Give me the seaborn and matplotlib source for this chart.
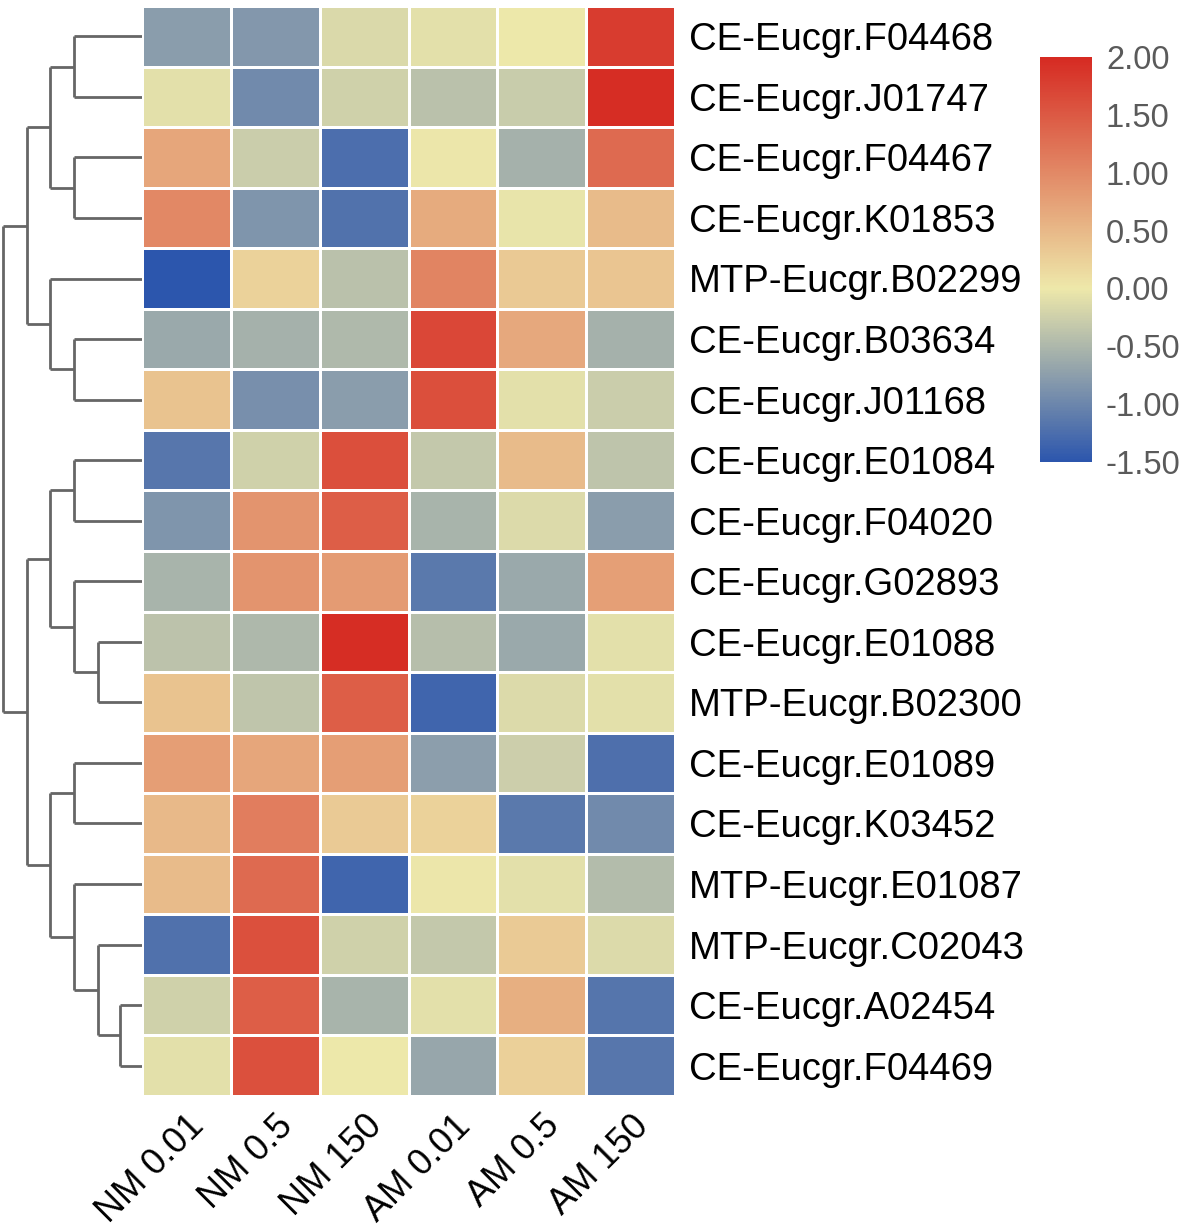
import numpy as np
import pandas as pd
import matplotlib
matplotlib.use("Agg")
import matplotlib.pyplot as plt
import seaborn as sns
from matplotlib.colors import LinearSegmentedColormap

# --- data (row-scaled expression) ---
genes = ["CE-Eucgr.F04468", "CE-Eucgr.J01747", "CE-Eucgr.F04467", "CE-Eucgr.K01853",
         "MTP-Eucgr.B02299", "CE-Eucgr.B03634", "CE-Eucgr.J01168", "CE-Eucgr.E01084",
         "CE-Eucgr.F04020", "CE-Eucgr.G02893", "CE-Eucgr.E01088", "MTP-Eucgr.B02300",
         "CE-Eucgr.E01089", "CE-Eucgr.K03452", "MTP-Eucgr.E01087", "MTP-Eucgr.C02043",
         "CE-Eucgr.A02454", "CE-Eucgr.F04469"]
conditions = ["NM 0.01", "NM 0.5", "NM 150", "AM 0.01", "AM 0.5", "AM 150"]

nm_001 = [-0.77, -0.09, 0.69, 1.01, -1.51, -0.64, 0.40, -1.16, -0.85,
          -0.54, -0.39, 0.40, 0.78, 0.49, 0.48, -1.22, -0.24, -0.09]
nm_05 = [-0.82, -0.96, -0.28, -0.85, 0.23, -0.56, -0.91, -0.23, 0.88,
         0.88, -0.50, -0.36, 0.69, 1.12, 1.32, 1.59, 1.44, 1.59]
nm_150 = [-0.15, -0.23, -1.25, -1.21, -0.40, -0.48, -0.77, 1.61, 1.44,
          0.80, 1.97, 1.44, 0.78, 0.31, -1.34, -0.23, -0.53, 0.00]
am_001 = [-0.09, -0.40, -0.01, 0.64, 1.05, 1.69, 1.61, -0.33, -0.54,
          -1.14, -0.42, -1.34, -0.76, 0.23, -0.01, -0.33, -0.09, -0.67]
am_05 = [0.00, -0.29, -0.56, -0.05, 0.32, 0.67, -0.09, 0.48, -0.14,
         -0.65, -0.65, -0.14, -0.26, -1.14, -0.09, 0.31, 0.60, 0.25]
am_150 = [1.80, 1.97, 1.32, 0.47, 0.37, -0.56, -0.28, -0.37, -0.77,
          0.76, -0.09, -0.09, -1.24, -0.96, -0.45, -0.14, -1.18, -1.16]

# row dendrogram: (left, right, height); leaves 0-17 in display order, new nodes from 18
merges = [(0, 1, 68), (2, 3, 68), (18, 19, 91), (5, 6, 68), (4, 21, 91), (20, 22, 114),
          (7, 8, 68), (10, 11, 44), (9, 25, 68), (24, 26, 91),
          (12, 13, 68), (16, 17, 22), (15, 29, 44), (14, 30, 68), (28, 31, 91),
          (27, 32, 114), (23, 33, 138)]

df = pd.DataFrame({"NM 0.01": nm_001, "NM 0.5": nm_05, "NM 150": nm_150,
                   "AM 0.01": am_001, "AM 0.5": am_05, "AM 150": am_150}, index=genes)

vmin, vmax = -1.5, 2.0
mid = (0 - vmin) / (vmax - vmin)
cmap = LinearSegmentedColormap.from_list(
    "byr", [(0, "#2C56AD"), (mid, "#EEE8AA"), (1, "#D62A22")])

W, H = 1180, 1228
fig = plt.figure(figsize=(W / 100, H / 100), dpi=100)
plt.rcParams["font.family"] = ["Liberation Sans", "DejaVu Sans"]

hm_l, hm_r, hm_t, hm_b = 142, 675, 6, 1096
ax = fig.add_axes([hm_l / W, 1 - hm_b / H, (hm_r - hm_l) / W, (hm_b - hm_t) / H])
dax = fig.add_axes([0, 1 - hm_b / H, hm_l / W, (hm_b - hm_t) / H])
cax = fig.add_axes([1040 / W, 1 - 462 / H, 52 / W, (462 - 57) / H])

sns.heatmap(df, ax=ax, cmap=cmap, vmin=vmin, vmax=vmax, linewidths=2, linecolor="white",
            cbar_ax=cax, cbar_kws={"ticks": [-1.5, -1.0, -0.5, 0, 0.5, 1.0, 1.5, 2.0],
                                   "format": "%.2f"})

ax.yaxis.tick_right()
ax.set_yticklabels(genes, rotation=0, fontsize=27.5, color="black")
ax.set_xticklabels(conditions, rotation=45, ha="right", va="top",
                   rotation_mode="anchor", fontsize=26, color="black")
ax.tick_params(axis="both", length=0)
ax.tick_params(axis="y", pad=10)
ax.tick_params(axis="x", pad=9)
ax.set_xlabel("")
ax.set_ylabel("")

cbar = ax.collections[0].colorbar
cbar.outline.set_visible(False)
cax.tick_params(length=0, labelsize=23.5, labelcolor="#5a5a5a", pad=10)

# --- dendrogram ---
ypos = {i: i + 0.5 for i in range(len(genes))}
hgt = {i: 0 for i in range(len(genes))}
node = len(genes)
for a, b, h in merges:
    for c in (a, b):
        dax.plot([hgt[c], h], [ypos[c], ypos[c]], color="#666666", lw=2,
                 solid_capstyle="butt")
    dax.plot([h, h], [ypos[a], ypos[b]], color="#666666", lw=2, solid_capstyle="butt")
    ypos[node] = (ypos[a] + ypos[b]) / 2
    hgt[node] = h
    node += 1

dax.set_xlim(141, 0)
dax.set_ylim(len(genes), 0)
dax.axis("off")

fig.savefig("out.png", dpi=100)
